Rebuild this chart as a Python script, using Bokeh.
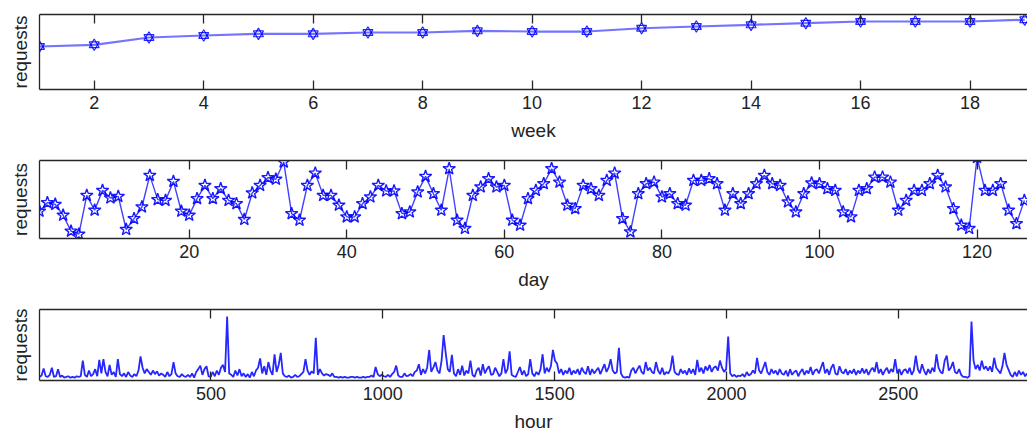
from bokeh.plotting import figure
from bokeh.models import LinearAxis, FixedTicker, Range1d, ColumnDataSource
from bokeh.layouts import column
from bokeh.embed import file_html
from bokeh.resources import INLINE

# ---------------- data ----------------
weeks = list(range(1, 20))
week_requests = [57.3, 59.6, 69.3, 72.0, 74.2, 74.2, 76.0, 76.0, 78.2, 77.3,
                 77.3, 81.7, 84.0, 86.2, 88.4, 90.7, 90.7, 90.7, 93.0]
week_ticks = [2, 4, 6, 8, 10, 12, 14, 16, 18]

days = list(range(1, 127))
day_requests = [
    34.9, 46.0, 43.8, 29.8, 9.4, 5.5, 55.3, 36.2, 61.7, 51.9,
    54.0, 11.5, 25.5, 40.4, 80.9, 49.8, 48.9, 73.2, 34.9, 29.8,
    51.1, 68.1, 51.1, 63.8, 48.9, 44.7, 24.3, 58.3, 68.1, 78.0,
    76.0, 98.0, 31.9, 23.4, 68.1, 83.8, 55.3, 55.3, 42.6, 27.7,
    27.7, 44.7, 53.2, 68.1, 60.9, 60.9, 31.9, 34.0, 59.6, 79.6,
    57.4, 36.2, 89.4, 23.4, 12.8, 55.3, 66.0, 76.6, 66.0, 68.1,
    23.4, 17.0, 51.1, 61.7, 70.2, 89.4, 72.3, 42.6, 38.3, 68.1,
    63.8, 55.3, 74.5, 83.8, 25.5, 8.5, 57.4, 70.2, 72.3, 53.2,
    57.4, 44.7, 42.6, 74.5, 74.5, 76.6, 70.2, 36.2, 57.4, 44.7,
    57.4, 70.2, 80.9, 70.2, 68.1, 46.8, 34.0, 57.4, 71.1, 70.2,
    63.8, 61.7, 34.0, 27.7, 61.7, 63.8, 78.7, 78.7, 72.3, 36.2,
    48.9, 61.7, 61.7, 70.2, 80.9, 66.0, 38.3, 17.0, 12.8, 104.0,
    61.7, 61.7, 70.2, 36.2, 19.1, 48.9]
day_ticks = [20, 40, 60, 80, 100, 120]

hour_step = 6
hour_requests = [
    5, 7, 17, 6, 5, 8, 18, 5, 6, 16, 5, 7, 4, 5, 6, 4, 5, 4, 6, 5,
    6, 28, 8, 5, 14, 6, 9, 16, 6, 29, 10, 30, 12, 6, 22, 8, 12, 5, 30, 9,
    6, 10, 5, 12, 7, 5, 9, 6, 14, 34, 18, 10, 16, 12, 8, 14, 9, 13, 7, 10,
    8, 5, 12, 6, 9, 26, 10, 6, 5, 9, 6, 5, 8, 5, 10, 4, 12, 16, 21, 8,
    16, 20, 6, 5, 12, 6, 14, 8, 18, 22, 12, 90, 10, 8, 5, 14, 7, 16, 6, 10,
    5, 9, 4, 12, 6, 14, 18, 31, 10, 20, 8, 26, 14, 8, 37, 12, 22, 39, 10, 6,
    5, 7, 4, 5, 8, 5, 6, 9, 12, 30, 14, 8, 13, 10, 60, 8, 16, 10, 7, 9,
    8, 6, 10, 5, 5, 4, 5, 4, 5, 4, 4, 5, 5, 4, 5, 4, 4, 5, 4, 5,
    5, 7, 5, 19, 9, 6, 8, 6, 5, 8, 5, 9, 12, 21, 7, 5, 5, 10, 6, 7,
    9, 6, 12, 14, 23, 8, 16, 10, 18, 43, 12, 18, 26, 14, 10, 28, 64, 39, 16, 12,
    36, 10, 6, 16, 8, 21, 7, 14, 10, 28, 8, 5, 14, 18, 7, 23, 10, 16, 20, 8,
    9, 18, 12, 6, 10, 30, 10, 16, 41, 8, 6, 5, 12, 19, 8, 14, 6, 9, 30, 10,
    6, 12, 8, 16, 37, 10, 18, 12, 20, 43, 28, 24, 10, 16, 8, 14, 10, 18, 8, 14,
    10, 16, 8, 18, 12, 9, 20, 8, 16, 10, 14, 18, 9, 16, 23, 12, 18, 30, 14, 10,
    12, 46, 10, 5, 4, 5, 4, 14, 18, 10, 16, 21, 12, 9, 26, 14, 18, 12, 10, 26,
    14, 9, 18, 8, 12, 10, 16, 35, 12, 9, 8, 16, 10, 14, 8, 17, 10, 16, 8, 29,
    12, 18, 10, 20, 14, 22, 12, 18, 20, 14, 28, 18, 12, 16, 62, 10, 6, 8, 5, 7,
    6, 9, 5, 12, 7, 9, 14, 10, 32, 14, 10, 18, 26, 12, 8, 16, 10, 14, 8, 16,
    10, 8, 14, 6, 16, 8, 12, 14, 6, 12, 16, 8, 14, 10, 19, 8, 14, 16, 10, 18,
    26, 10, 16, 8, 18, 23, 10, 8, 20, 12, 10, 16, 8, 14, 10, 16, 8, 14, 10, 17,
    10, 16, 8, 14, 18, 12, 26, 10, 16, 8, 14, 18, 10, 16, 12, 30, 10, 16, 8, 14,
    16, 10, 18, 8, 14, 35, 16, 10, 23, 14, 8, 16, 10, 18, 12, 37, 18, 12, 10, 28,
    35, 14, 18, 26, 12, 10, 16, 8, 5, 5, 4, 6, 83, 28, 16, 22, 14, 28, 16, 20,
    14, 20, 12, 32, 18, 14, 10, 20, 39, 22, 15, 8, 5, 12, 6, 14, 8, 12, 6, 10]
hours = [1 + hour_step * i for i in range(len(hour_requests))]
hour_ticks = [500, 1000, 1500, 2000, 2500]

# ---------------- style ----------------
BLUE = "#0000ff"
AXIS = "#262626"
TXT = "#222222"
FONT = "Liberation Sans"


def make_panel(height, top, bottom, xr, ticks, xlabel):
    p = figure(width=1027, height=height, x_range=Range1d(*xr), y_range=Range1d(0, 100),
               output_backend="svg", toolbar_location=None,
               x_axis_location=None, y_axis_location=None,
               min_border_left=39, min_border_right=0,
               min_border_top=top, min_border_bottom=bottom)
    p.outline_line_color = None
    p.xgrid.grid_line_color = None
    p.ygrid.grid_line_color = None
    p.background_fill_color = "white"
    p.border_fill_color = "white"

    below = LinearAxis(ticker=FixedTicker(ticks=ticks), axis_label=xlabel)
    above = LinearAxis(ticker=FixedTicker(ticks=ticks))
    left = LinearAxis(ticker=FixedTicker(ticks=[]), axis_label="requests")
    for ax in (below, above, left):
        ax.axis_line_color = AXIS
        ax.axis_line_width = 1.3
        ax.major_tick_line_color = AXIS
        ax.major_tick_line_width = 1.3
        ax.major_tick_in = 9
        ax.major_tick_out = 0
        ax.minor_tick_line_color = None
        ax.major_label_text_font = FONT
        ax.major_label_text_font_size = "18px"
        ax.major_label_text_color = TXT
        ax.axis_label_text_font = FONT
        ax.axis_label_text_font_size = "19px"
        ax.axis_label_text_font_style = "normal"
        ax.axis_label_text_color = TXT
    below.major_label_standoff = 6
    below.axis_label_standoff = 8
    above.major_label_overrides = {t: "" for t in ticks}
    above.major_label_text_font_size = "1px"
    above.major_label_standoff = 0
    left.major_tick_in = 0
    left.axis_label_standoff = 9
    p.add_layout(below, "below")
    p.add_layout(above, "above")
    p.add_layout(left, "left")
    return p


# week panel
p1 = make_panel(146, 14, 57, (1, 19.05), week_ticks, "week")
s1 = ColumnDataSource(dict(x=weeks, y=week_requests))
p1.line("x", "y", source=s1, line_color=BLUE, line_width=2.2, line_alpha=0.55)
p1.scatter("x", "y", source=s1, marker="triangle", size=10, fill_color=None,
           line_color=BLUE, line_width=1.2, line_alpha=0.85)
p1.scatter("x", "y", source=s1, marker="inverted_triangle", size=10, fill_color=None,
           line_color=BLUE, line_width=1.2, line_alpha=0.85)

# day panel
p2 = make_panel(148, 14, 56, (1, 126.4), day_ticks, "day")
s2 = ColumnDataSource(dict(x=days, y=day_requests))
p2.line("x", "y", source=s2, line_color=BLUE, line_width=1.4, line_alpha=0.75)
p2.scatter("x", "y", source=s2, marker="star", size=13, fill_color=None,
           line_color=BLUE, line_width=1.4, line_alpha=0.9)

# hour panel
p3 = make_panel(140, 15, 50, (1, 2876), hour_ticks, "hour")
s3 = ColumnDataSource(dict(x=hours, y=hour_requests))
p3.line("x", "y", source=s3, line_color=BLUE, line_width=1.8, line_alpha=0.85)

layout = column(p1, p2, p3, spacing=0)
open("out.html", "w").write(file_html(layout, INLINE))
